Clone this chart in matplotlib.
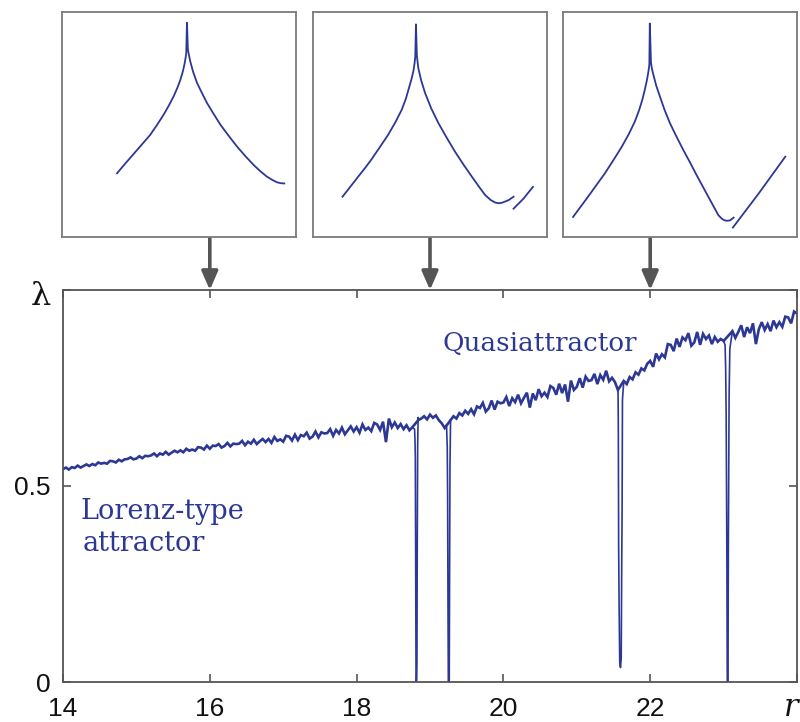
import numpy as np
import matplotlib
matplotlib.use("Agg")
import matplotlib.pyplot as plt

# ---------------- data ----------------
r_step = 0.04
r_start = 14.0
lam_base = [
    0.543, 0.547, 0.542, 0.548, 0.546, 0.552, 0.547, 0.551, 0.555, 0.551,
    0.556, 0.553, 0.560, 0.557, 0.559, 0.557, 0.564, 0.563, 0.560, 0.567,
    0.563, 0.568, 0.569, 0.573, 0.568, 0.570, 0.576, 0.571, 0.577, 0.576,
    0.578, 0.583, 0.576, 0.583, 0.580, 0.587, 0.580, 0.585, 0.590, 0.586,
    0.591, 0.586, 0.595, 0.590, 0.593, 0.590, 0.599, 0.598, 0.593, 0.603,
    0.595, 0.603, 0.602, 0.607, 0.598, 0.602, 0.610, 0.601, 0.608, 0.607,
    0.608, 0.615, 0.604, 0.613, 0.608, 0.618, 0.607, 0.614, 0.620, 0.612,
    0.620, 0.610, 0.625, 0.615, 0.619, 0.613, 0.628, 0.626, 0.616, 0.631,
    0.617, 0.630, 0.627, 0.636, 0.621, 0.626, 0.639, 0.624, 0.637, 0.634,
    0.635, 0.645, 0.628, 0.643, 0.634, 0.649, 0.632, 0.642, 0.652, 0.639,
    0.650, 0.636, 0.657, 0.643, 0.649, 0.640, 0.661, 0.657, 0.643, 0.664,
    0.612, 0.672, 0.650, 0.662, 0.648, 0.658, 0.645, 0.655, 0.642, 0.650,
    0.640, 0.668, 0.672, 0.678, 0.670, 0.682, 0.674, 0.680, 0.668, 0.660,
    0.648, 0.645, 0.668, 0.678, 0.672, 0.686, 0.680, 0.692, 0.684, 0.696,
    0.683, 0.703, 0.699, 0.712, 0.690, 0.698, 0.718, 0.695, 0.715, 0.711,
    0.713, 0.727, 0.704, 0.724, 0.714, 0.733, 0.711, 0.725, 0.738, 0.700,
    0.736, 0.719, 0.747, 0.729, 0.738, 0.727, 0.755, 0.750, 0.733, 0.761,
    0.737, 0.759, 0.715, 0.769, 0.745, 0.753, 0.775, 0.751, 0.779, 0.768,
    0.770, 0.786, 0.760, 0.783, 0.771, 0.794, 0.767, 0.776, 0.765, 0.745,
    0.760, 0.768, 0.760, 0.778, 0.772, 0.790, 0.784, 0.800, 0.795, 0.812,
    0.819, 0.804, 0.838, 0.823, 0.836, 0.828, 0.862, 0.860, 0.844, 0.876,
    0.855, 0.879, 0.872, 0.890, 0.858, 0.866, 0.893, 0.860, 0.888, 0.875,
    0.884, 0.862, 0.880, 0.868, 0.875, 0.870, 0.860, 0.870, 0.895, 0.878,
    0.893, 0.910, 0.880, 0.905, 0.890, 0.915, 0.862, 0.900, 0.918, 0.898,
    0.913, 0.895, 0.922, 0.905, 0.918, 0.906, 0.932, 0.930, 0.915, 0.945,
    0.940,
]

# narrow windows of regular dynamics (dips of the Lyapunov exponent)
dip1_r = [18.790, 18.795, 18.800, 18.805, 18.810, 18.818, 18.822, 18.826, 18.832, 18.838]
dip1_l = [0.645, 0.620, 0.575, 0.300, 0.000, 0.000, 0.050, 0.330, 0.600, 0.675]
dip2_r = [19.225, 19.235, 19.240, 19.245, 19.250, 19.262, 19.266, 19.272, 19.280]
dip2_l = [0.655, 0.600, 0.480, 0.200, 0.000, 0.000, 0.230, 0.550, 0.665]
dip3_r = [21.562, 21.566, 21.570, 21.576, 21.585, 21.595, 21.605, 21.612, 21.617, 21.622]
dip3_l = [0.745, 0.640, 0.350, 0.200, 0.050, 0.037, 0.060, 0.300, 0.432, 0.720]
dip4_r = [23.020, 23.028, 23.035, 23.045, 23.050, 23.060, 23.065, 23.075, 23.085]
dip4_l = [0.860, 0.800, 0.680, 0.300, 0.000, 0.000, 0.350, 0.730, 0.850]

x_ticks = [14, 16, 18, 20, 22, 24]
x_tick_labels = ["14", "16", "18", "20", "22", ""]
y_ticks = [0, 0.5, 1]
y_tick_labels = ["0", "0.5", ""]
arrow_r = [16, 19, 22]

# inset curves (normalised coordinates inside each box)
in1_u = [0.235, 0.270, 0.306, 0.342, 0.377, 0.406, 0.434, 0.457, 0.477, 0.493,
         0.506, 0.516, 0.523, 0.528, 0.531, 0.534, 0.538, 0.543, 0.548, 0.560,
         0.577, 0.598, 0.620, 0.648, 0.677, 0.712, 0.748, 0.784, 0.819, 0.848,
         0.876, 0.900, 0.919, 0.936, 0.950]
in1_v = [0.283, 0.326, 0.369, 0.412, 0.454, 0.498, 0.543, 0.585, 0.625, 0.663,
         0.699, 0.734, 0.766, 0.795, 0.818, 0.952, 0.833, 0.806, 0.781, 0.735,
         0.685, 0.640, 0.595, 0.547, 0.499, 0.450, 0.402, 0.359, 0.320, 0.292,
         0.268, 0.253, 0.243, 0.239, 0.238]
in1b_u = []
in1b_v = []

in2_u = [0.126, 0.160, 0.193, 0.222, 0.250, 0.286, 0.321, 0.352, 0.379, 0.397,
         0.410, 0.421, 0.429, 0.434, 0.437, 0.440, 0.444, 0.447, 0.450, 0.462,
         0.479, 0.505, 0.536, 0.571, 0.607, 0.643, 0.679, 0.709, 0.736, 0.760,
         0.779, 0.794, 0.807, 0.822, 0.836, 0.857]
in2_v = [0.179, 0.224, 0.268, 0.306, 0.345, 0.400, 0.454, 0.510, 0.565, 0.615,
         0.662, 0.702, 0.737, 0.772, 0.801, 0.945, 0.804, 0.778, 0.751, 0.697,
         0.640, 0.572, 0.506, 0.442, 0.379, 0.322, 0.268, 0.224, 0.186, 0.164,
         0.153, 0.150, 0.152, 0.158, 0.164, 0.179]
in2b_u = [0.857, 0.900, 0.940]
in2b_v = [0.126, 0.171, 0.223]

in3_u = [0.043, 0.075, 0.107, 0.143, 0.179, 0.215, 0.250, 0.281, 0.307, 0.325,
         0.339, 0.350, 0.359, 0.365, 0.369, 0.371, 0.376, 0.380, 0.386, 0.398,
         0.414, 0.434, 0.457, 0.485, 0.514, 0.543, 0.571, 0.597, 0.621, 0.644,
         0.664, 0.678, 0.690, 0.702, 0.714, 0.729]
in3_v = [0.089, 0.134, 0.179, 0.231, 0.283, 0.341, 0.399, 0.457, 0.513, 0.563,
         0.610, 0.656, 0.699, 0.735, 0.766, 0.949, 0.774, 0.748, 0.722, 0.674,
         0.625, 0.565, 0.506, 0.446, 0.387, 0.331, 0.275, 0.225, 0.179, 0.135,
         0.097, 0.082, 0.074, 0.072, 0.074, 0.086]
in3b_u = [0.726, 0.836, 0.950]
in3b_v = [0.042, 0.193, 0.357]

# ---------------- assemble series ----------------
r_grid = np.round(r_start + r_step * np.arange(len(lam_base)), 3)
lam_grid = np.array(lam_base)
dips = [(dip1_r, dip1_l), (dip2_r, dip2_l), (dip3_r, dip3_l), (dip4_r, dip4_l)]
mask = np.ones(len(r_grid), bool)
for dr, _ in dips:
    mask &= ~((r_grid > min(dr)) & (r_grid < max(dr)))
r_keep, l_keep = r_grid[mask], lam_grid[mask]

# ---------------- style ----------------
BLUE = "#2d3894"
GRAY = "#555555"
FRAME = "#7a7a7a"

W, H = 800, 722
fig = plt.figure(figsize=(W / 100, H / 100), dpi=100)

def fx(px):
    return px / W

def fy(py):
    return 1 - py / H

ax = fig.add_axes([fx(63), fy(682), fx(797) - fx(63), fy(290) - fy(682)])
ax.plot(r_keep, l_keep, color=BLUE, lw=1.9, solid_joinstyle="miter")
for dr, dl in dips:
    i0 = np.searchsorted(r_keep, min(dr)) - 1
    i1 = np.searchsorted(r_keep, max(dr))
    seg_r = [r_keep[i0]] + list(dr) + [r_keep[i1]]
    seg_l = [l_keep[i0]] + list(dl) + [l_keep[i1]]
    ax.plot(seg_r, seg_l, color=BLUE, lw=1.2)
ax.set_xlim(14, 24)
ax.set_ylim(0, 1)
ax.set_xticks(x_ticks)
ax.set_xticklabels(x_tick_labels)
ax.set_yticks(y_ticks)
ax.set_yticklabels(y_tick_labels)
for s in ax.spines.values():
    s.set_color(GRAY)
    s.set_linewidth(1.3)
ax.tick_params(direction="in", length=6, width=1.2, color=GRAY,
               top=True, right=True, labelsize=19)
ax.tick_params(axis="x", pad=11)
ax.tick_params(axis="y", pad=9)
for lab in ax.get_xticklabels() + ax.get_yticklabels():
    lab.set_fontfamily("Liberation Sans")
    lab.set_color("#111111")

# axis symbols
fig.text(fx(41), fy(297), "λ", fontsize=23, family="DejaVu Serif",
         ha="center", va="center", color="#111111")
ax.text(23.92, -0.065, "r", transform=ax.get_xaxis_transform(), fontsize=22,
        family="DejaVu Serif", style="italic", ha="center", va="center",
        color="#111111", clip_on=False)

# annotations
ax.text(19.173, 0.845, "Quasiattractor", fontsize=18.8, family="DejaVu Serif",
        color=BLUE, ha="left", va="baseline")
ax.text(14.245, 0.415, "Lorenz-type", fontsize=19.5, family="DejaVu Serif",
        color=BLUE, ha="left", va="baseline")
ax.text(14.27, 0.334, "attractor", fontsize=19.5, family="DejaVu Serif",
        color=BLUE, ha="left", va="baseline")

# insets
inset_left = [62, 313, 563]
insets = [(in1_u, in1_v, in1b_u, in1b_v),
          (in2_u, in2_v, in2b_u, in2b_v),
          (in3_u, in3_v, in3b_u, in3b_v)]
for left, (u, v, ub, vb) in zip(inset_left, insets):
    iax = fig.add_axes([fx(left), fy(237), fx(234), fy(12) - fy(237)])
    iax.plot(u, v, color=BLUE, lw=1.3)
    if ub:
        iax.plot(ub, vb, color=BLUE, lw=1.3)
    iax.set_xlim(0, 1)
    iax.set_ylim(0, 1)
    iax.set_xticks([])
    iax.set_yticks([])
    for s in iax.spines.values():
        s.set_color(FRAME)
        s.set_linewidth(1.3)

# arrows from insets to the main axis
for rr in arrow_r:
    ax.annotate("", xy=(rr, 1.0), xycoords="data",
                xytext=(rr, fy(237)), textcoords=("data", "figure fraction"),
                arrowprops=dict(arrowstyle="-|>,head_length=0.8,head_width=0.35",
                                color=GRAY, lw=2.6, shrinkA=0, shrinkB=0,
                                mutation_scale=14),
                annotation_clip=False)

fig.savefig("out.png", dpi=100)
